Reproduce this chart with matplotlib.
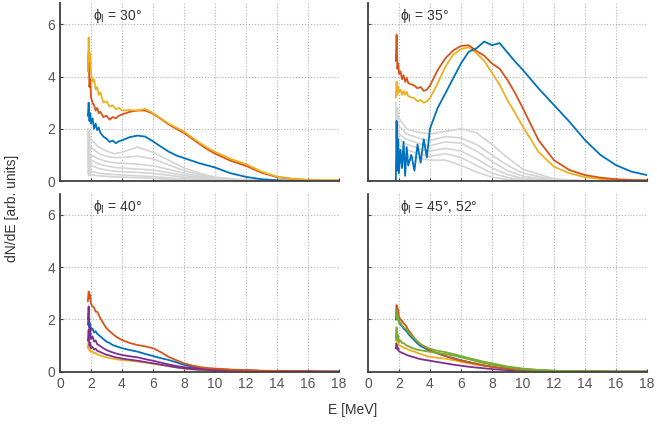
import numpy as np
import matplotlib
matplotlib.use('Agg')
import matplotlib.pyplot as plt

plt.rcParams['font.family'] = ['Liberation Sans', 'DejaVu Sans']

# energy grids [MeV]
E_MAIN = [1.8, 1.85, 1.9, 1.95, 2.0, 2.1, 2.2, 2.3, 2.4, 2.5, 2.6, 2.8, 3.0, 3.2, 3.4, 3.6, 3.8, 4.0,
          4.5, 5.0, 5.5, 6.0, 6.5, 7.0, 7.5, 8.0, 8.5, 9.0, 9.5, 10, 11, 12, 13, 14, 15, 16, 17, 18]
E_GRAY = [1.8, 1.85, 1.9, 1.95, 2.0, 2.5, 3.0, 3.5, 4.0, 5.0, 6.0, 7.0, 8.0, 9.0, 10, 12, 14, 18]

PANEL_TITLES = ['ϕ$_\\mathrm{l}$ = 30°', 'ϕ$_\\mathrm{l}$ = 35°',
                'ϕ$_\\mathrm{l}$ = 40°', 'ϕ$_\\mathrm{l}$ = 45°, 52°']

# --- phi = 30 deg ---
gray_30 = [
    [2.0, 1.5, 1.9, 1.6, 1.6, 1.3, 1.15, 1.05, 1.1, 1.3, 1.1, 0.8, 0.5, 0.3, 0.15, 0.04, 0.01, 0],
    [1.8, 1.3, 1.6, 1.2, 1.3, 1.05, 0.95, 0.9, 0.9, 0.95, 0.85, 0.62, 0.4, 0.24, 0.12, 0.03, 0.01, 0],
    [1.5, 0.9, 1.3, 0.8, 1.0, 0.85, 0.75, 0.7, 0.68, 0.65, 0.58, 0.45, 0.3, 0.18, 0.09, 0.02, 0, 0],
    [1.2, 0.6, 1.0, 0.7, 0.8, 0.65, 0.58, 0.52, 0.5, 0.46, 0.42, 0.32, 0.22, 0.13, 0.06, 0.02, 0, 0],
    [0.9, 0.4, 0.8, 0.5, 0.6, 0.48, 0.42, 0.38, 0.36, 0.33, 0.29, 0.22, 0.15, 0.09, 0.04, 0.01, 0, 0],
    [0.6, 0.3, 0.5, 0.3, 0.38, 0.3, 0.27, 0.25, 0.23, 0.2, 0.17, 0.12, 0.08, 0.05, 0.02, 0.01, 0, 0],
    [0.35, 0.2, 0.3, 0.22, 0.24, 0.2, 0.18, 0.16, 0.15, 0.13, 0.1, 0.07, 0.05, 0.03, 0.01, 0, 0, 0],
]
blue_30 = [2.5, 3.0, 2.3, 2.6, 2.2, 2.4, 2.0, 2.2, 1.95, 2.05, 1.85, 1.7, 1.62, 1.5, 1.55, 1.45, 1.52, 1.56,
           1.68, 1.74, 1.7, 1.52, 1.32, 1.13, 0.98, 0.88, 0.78, 0.68, 0.6, 0.52, 0.3, 0.16, 0.07, 0.03, 0.01, 0.01, 0, 0]
orange_30 = [4.3, 4.9, 3.6, 3.9, 3.2, 3.0, 2.9, 2.7, 2.8, 2.6, 2.65, 2.45, 2.5, 2.35, 2.45, 2.4, 2.5, 2.55,
             2.65, 2.7, 2.7, 2.58, 2.38, 2.17, 2.0, 1.84, 1.63, 1.42, 1.22, 1.05, 0.78, 0.58, 0.32, 0.15, 0.08, 0.04, 0.02, 0.02]
yellow_30 = [4.2, 5.5, 4.6, 4.9, 4.1, 3.8, 3.9, 3.5, 3.6, 3.3, 3.4, 3.0, 3.05, 2.85, 2.9, 2.75, 2.8, 2.7,
             2.72, 2.7, 2.76, 2.6, 2.4, 2.2, 2.05, 1.89, 1.68, 1.47, 1.28, 1.12, 0.85, 0.65, 0.36, 0.17, 0.09, 0.05, 0.03, 0.03]

# --- phi = 35 deg ---
gray_35 = [
    [3.0, 2.4, 2.8, 2.5, 2.4, 2.0, 1.9, 1.85, 1.8, 1.9, 2.0, 1.85, 1.4, 0.9, 0.45, 0.08, 0.01, 0],
    [2.7, 2.1, 2.5, 2.2, 2.1, 1.8, 1.7, 1.6, 1.55, 1.7, 1.65, 1.4, 1.0, 0.6, 0.3, 0.05, 0.01, 0],
    [2.4, 1.8, 2.2, 1.9, 1.8, 1.6, 1.5, 1.4, 1.35, 1.5, 1.45, 1.15, 0.75, 0.4, 0.18, 0.03, 0, 0],
    [2.2, 1.6, 1.9, 1.7, 1.6, 1.4, 1.3, 1.2, 1.15, 1.25, 1.15, 0.85, 0.5, 0.25, 0.1, 0.02, 0, 0],
    [2.0, 1.4, 1.7, 1.5, 1.4, 1.2, 1.1, 1.0, 0.95, 1.05, 0.9, 0.6, 0.3, 0.14, 0.05, 0.01, 0, 0],
    [1.8, 1.2, 1.5, 1.3, 1.2, 1.0, 0.9, 0.85, 0.8, 0.8, 0.6, 0.35, 0.15, 0.06, 0.02, 0, 0, 0],
]
blue_35 = [0.0, 2.3, 0.4, 1.6, 0.3, 1.2, 0.5, 1.5, 0.2, 1.3, 0.6, 1.0, 0.4, 1.4, 0.7, 1.6, 0.9, 2.0,
           2.8, 3.36, 3.93, 4.5, 4.95, 5.08, 5.34, 5.2, 5.28, 4.92, 4.57, 4.25, 3.55, 2.91, 2.27, 1.57, 1.0, 0.61, 0.36, 0.23]
orange_35 = [4.6, 5.6, 4.3, 4.5, 4.1, 4.2, 3.9, 4.05, 3.8, 3.95, 3.75, 3.7, 3.65, 3.55, 3.6, 3.45, 3.5, 3.65,
             4.25, 4.7, 5.0, 5.17, 5.2, 4.98, 4.8, 4.5, 4.3, 3.87, 3.36, 2.78, 1.57, 0.8, 0.42, 0.23, 0.13, 0.07, 0.04, 0.03]
yellow_35 = [3.2, 3.8, 3.3, 3.6, 3.4, 3.5, 3.3, 3.45, 3.3, 3.42, 3.25, 3.2, 3.17, 3.05, 3.1, 3.0, 3.05, 3.17,
             3.74, 4.38, 4.83, 5.05, 5.12, 4.89, 4.6, 4.15, 3.68, 3.1, 2.6, 2.08, 1.12, 0.55, 0.3, 0.15, 0.08, 0.04, 0.02, 0.02]

# --- phi = 40 deg ---
blue_40 = [1.8, 2.1, 1.7, 1.85, 1.6, 1.65, 1.5, 1.55, 1.45, 1.4, 1.35, 1.25, 1.15, 1.1, 1.02, 0.98, 0.94, 0.9,
           0.83, 0.77, 0.68, 0.6, 0.52, 0.45, 0.36, 0.26, 0.2, 0.15, 0.12, 0.1, 0.07, 0.05, 0.03, 0.02, 0.01, 0.01, 0, 0]
orange_40 = [2.7, 3.07, 2.8, 2.95, 2.6, 2.5, 2.45, 2.3, 2.3, 2.17, 2.05, 1.85, 1.66, 1.55, 1.45, 1.35, 1.28, 1.21,
             1.1, 1.02, 0.97, 0.9, 0.75, 0.57, 0.44, 0.32, 0.24, 0.18, 0.14, 0.12, 0.08, 0.06, 0.04, 0.03, 0.02, 0.01, 0.01, 0]
yellow_40 = [0.9, 1.2, 0.8, 0.85, 0.75, 0.78, 0.7, 0.72, 0.66, 0.64, 0.62, 0.58, 0.55, 0.52, 0.5, 0.48, 0.46, 0.45,
             0.42, 0.39, 0.35, 0.31, 0.26, 0.21, 0.16, 0.12, 0.09, 0.07, 0.06, 0.05, 0.04, 0.03, 0.02, 0.01, 0.01, 0, 0, 0]
purple_40a = [2.0, 2.5, 1.4, 1.7, 1.25, 1.35, 1.15, 1.2, 1.05, 1.02, 0.98, 0.9, 0.83, 0.78, 0.74, 0.7, 0.67, 0.64,
              0.59, 0.55, 0.48, 0.42, 0.35, 0.28, 0.22, 0.17, 0.14, 0.12, 0.1, 0.09, 0.07, 0.05, 0.03, 0.02, 0.01, 0.01, 0, 0]
purple_40b = [1.2, 1.6, 1.0, 1.1, 0.9, 0.95, 0.85, 0.88, 0.8, 0.78, 0.75, 0.7, 0.65, 0.62, 0.58, 0.55, 0.53, 0.5,
              0.46, 0.42, 0.37, 0.32, 0.27, 0.22, 0.17, 0.13, 0.1, 0.08, 0.07, 0.06, 0.05, 0.04, 0.02, 0.01, 0.01, 0, 0, 0]

# --- phi = 45, 52 deg ---
blue_45 = [2.0, 2.3, 2.0, 2.1, 1.9, 1.8, 1.75, 1.65, 1.6, 1.55, 1.45, 1.32, 1.2, 1.08, 0.98, 0.92, 0.86, 0.8,
           0.7, 0.6, 0.52, 0.44, 0.37, 0.3, 0.24, 0.19, 0.15, 0.11, 0.09, 0.07, 0.05, 0.03, 0.02, 0.01, 0.01, 0, 0, 0]
orange_45 = [2.2, 2.55, 2.3, 2.4, 2.1, 2.0, 1.95, 1.85, 1.8, 1.72, 1.6, 1.45, 1.28, 1.15, 1.05, 0.98, 0.9, 0.83,
             0.7, 0.6, 0.5, 0.42, 0.36, 0.3, 0.24, 0.19, 0.15, 0.12, 0.09, 0.07, 0.05, 0.03, 0.02, 0.01, 0.01, 0, 0, 0]
yellow_45 = [1.2, 1.4, 1.1, 1.15, 1.0, 1.0, 0.95, 0.92, 0.9, 0.88, 0.85, 0.8, 0.77, 0.72, 0.68, 0.64, 0.6, 0.57,
             0.53, 0.5, 0.44, 0.38, 0.32, 0.27, 0.22, 0.18, 0.14, 0.11, 0.09, 0.07, 0.04, 0.03, 0.02, 0.01, 0, 0, 0, 0]
purple_45 = [0.9, 1.1, 0.85, 0.9, 0.78, 0.75, 0.72, 0.7, 0.67, 0.64, 0.62, 0.58, 0.55, 0.51, 0.48, 0.46, 0.44, 0.42,
             0.37, 0.32, 0.27, 0.23, 0.19, 0.16, 0.13, 0.1, 0.08, 0.06, 0.05, 0.04, 0.03, 0.02, 0.01, 0.01, 0, 0, 0, 0]
green_45a = [2.1, 2.36, 2.0, 2.15, 1.85, 1.9, 1.75, 1.7, 1.65, 1.66, 1.5, 1.4, 1.28, 1.15, 1.05, 0.98, 0.93, 0.88,
             0.8, 0.75, 0.68, 0.6, 0.52, 0.45, 0.38, 0.32, 0.26, 0.2, 0.16, 0.12, 0.07, 0.04, 0.02, 0.01, 0.01, 0, 0, 0]
green_45b = [1.3, 1.7, 1.2, 1.4, 1.15, 1.2, 1.1, 1.1, 1.05, 1.0, 0.98, 0.92, 0.88, 0.84, 0.82, 0.8, 0.78, 0.76,
             0.72, 0.68, 0.62, 0.55, 0.48, 0.4, 0.33, 0.27, 0.22, 0.17, 0.13, 0.1, 0.06, 0.03, 0.02, 0.01, 0, 0, 0, 0]

BLUE, ORANGE, YELLOW = '#0072BD', '#D95319', '#EDB120'
PURPLE, GREEN, GRAY = '#7E2F8E', '#77AC30', '#d4d4d4'

# (gray curves, coloured curves in drawing order)
panels = [
    (gray_30, [(blue_30, BLUE), (orange_30, ORANGE), (yellow_30, YELLOW)]),
    (gray_35, [(yellow_35, YELLOW), (orange_35, ORANGE), (blue_35, BLUE)]),
    ([], [(yellow_40, YELLOW), (blue_40, BLUE), (purple_40b, PURPLE), (purple_40a, PURPLE), (orange_40, ORANGE)]),
    ([], [(purple_45, PURPLE), (yellow_45, YELLOW), (blue_45, BLUE), (orange_45, ORANGE),
          (green_45b, GREEN), (green_45a, GREEN)]),
]

fig = plt.figure(figsize=(6.57, 4.25), dpi=100)
w, h = 0.4247, 0.418
boxes = [(0.0913, 0.574), (0.560, 0.574), (0.0913, 0.1254), (0.560, 0.1254)]

for i, ((left, bottom), (grays, colored)) in enumerate(zip(boxes, panels)):
    ax = fig.add_axes([left, bottom, w, h])
    for g in grays:
        ax.plot(E_GRAY, g, color=GRAY, lw=1.2)
    for vals, c in colored:
        ax.plot(E_MAIN, vals, color=c, lw=1.3)
    ax.set_xlim(0, 18)
    ax.set_ylim(0, 6.8)
    ax.set_xticks(range(0, 19, 2))
    ax.set_yticks([0, 2, 4, 6])
    ax.grid(True, ls=':', color='#b0b0b0', lw=0.8)
    ax.set_axisbelow(True)
    for s in ['top', 'right']:
        ax.spines[s].set_visible(False)
    for s in ['left', 'bottom']:
        ax.spines[s].set_color('#404040')
        ax.spines[s].set_linewidth(1.3)
    ax.tick_params(direction='in', length=2.5, width=0.8, colors='#404040',
                   labelcolor='#555555', labelsize=10)
    if i < 2:
        ax.tick_params(labelbottom=False)
    if i % 2 == 1:
        ax.tick_params(labelleft=False)
    ax.text(2.1, 6.3, PANEL_TITLES[i], fontsize=10, color='#333333', va='center', ha='left')

fig.text(0.537, 0.035, 'E [MeV]', ha='center', va='center', fontsize=10, color='#333333')
fig.text(0.018, 0.51, 'dN/dE [arb. units]', ha='center', va='center', rotation=90,
         fontsize=10, color='#333333')

fig.savefig('out.png', dpi=100)
